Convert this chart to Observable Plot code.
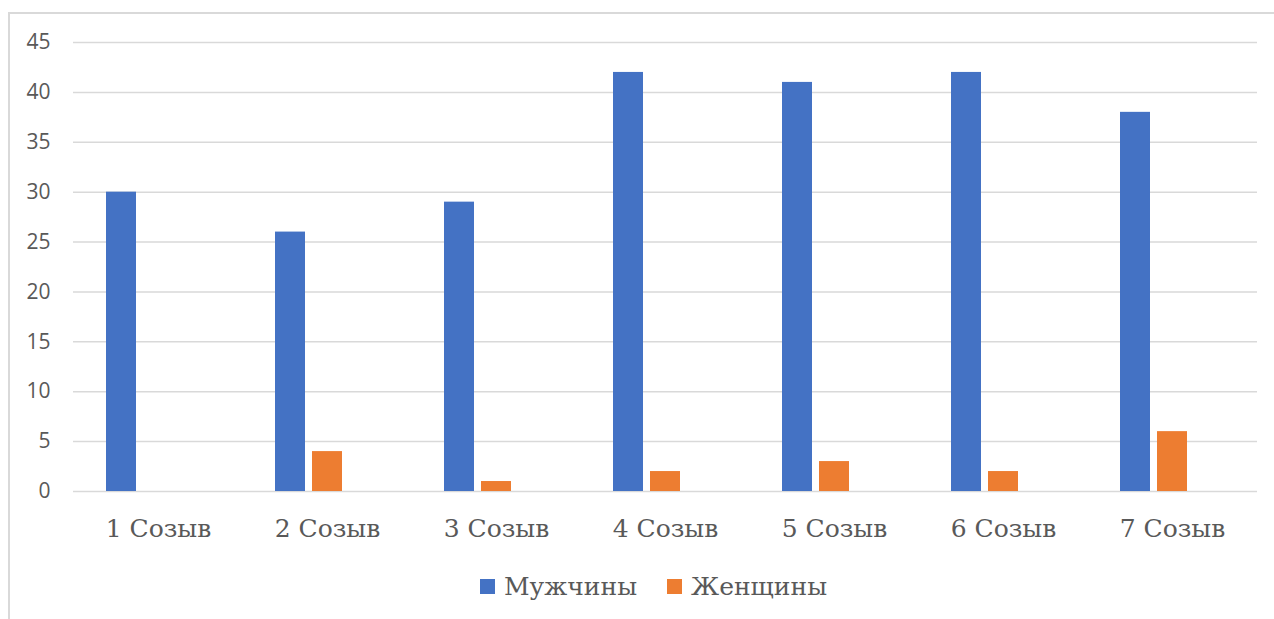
<!DOCTYPE html>
<html>
<head>
<meta charset="utf-8">
<script src="https://cdn.jsdelivr.net/npm/d3@7"></script>
<script src="https://cdn.jsdelivr.net/npm/@observablehq/plot@0.6"></script>
<style>
  html, body { margin: 0; padding: 0; background: #fff; }
  #wrap { position: relative; width: 1274px; height: 619px; overflow: hidden; }
  #frame { position: absolute; left: 8px; top: 12px; width: 1300px; height: 700px;
           border-top: 2px solid #d9d9d9; border-left: 2px solid #d9d9d9; }
  .layer { position: absolute; left: 0; top: 0; }
  .layer [aria-label^="fx-axis"] text { font-family: "DejaVu Serif", serif; font-size: 25px; fill: #595959; }
  .layer [aria-label^="y-axis"] text { font-family: "Open Sans", sans-serif; font-size: 21px; fill: #595959; }
  #legend { position: absolute; top: 572px; left: 480px; display: flex; align-items: center;
            font-family: "DejaVu Serif", serif; font-size: 25px; color: #595959; }
  .item { display: flex; align-items: center; margin-right: 30px; }
  .sw { width: 15px; height: 15px; margin-right: 9px; }
</style>
</head>
<body>
<div id="wrap">
  <div id="frame"></div>
  <div id="grid" class="layer"></div>
  <div id="chart" class="layer"></div>
  <div id="legend"></div>
</div>
<script>
const categories = ["1 Созыв", "2 Созыв", "3 Созыв", "4 Созыв", "5 Созыв", "6 Созыв", "7 Созыв"];
const seriesNames = ["Мужчины", "Женщины"];
const men = [30, 26, 29, 42, 41, 42, 38];
const women = [0, 4, 1, 2, 3, 2, 6];
const colors = ["#4472C4", "#ED7D31"];
const yTicks = [0, 5, 10, 15, 20, 25, 30, 35, 40, 45];

const data = categories.flatMap((c, i) => [
  {cat: c, series: seriesNames[0], value: men[i]},
  {cat: c, series: seriesNames[1], value: women[i]}
]);

const dims = {width: 1274, height: 560, marginLeft: 73, marginRight: 17, marginTop: 42, marginBottom: 69};
const style = {fontFamily: "'Open Sans', sans-serif", fontSize: "21px", color: "#595959", background: "transparent"};

// Back layer: gridlines and value axis over the full plot width
const grid = Plot.plot({
  ...dims,
  style,
  y: {domain: [0, 45], ticks: yTicks, tickSize: 0, tickPadding: 23, label: null},
  marks: [
    Plot.ruleY(yTicks, {stroke: "#d9d9d9", strokeWidth: 1.5})
  ]
});
document.getElementById("grid").appendChild(grid);

// Front layer: grouped bars and category axis
const chart = Plot.plot({
  ...dims,
  style,
  fx: {domain: categories, paddingInner: 0.385, paddingOuter: 0.1925, label: null, tickSize: 0, tickPadding: 28, axis: "bottom"},
  x: {domain: [...seriesNames, " "], paddingInner: 0.19, paddingOuter: 0, axis: null},
  y: {domain: [0, 45], axis: null},
  color: {domain: seriesNames, range: colors},
  marks: [
    Plot.barY(data, {fx: "cat", x: "series", y: "value", fill: "series"})
  ]
});
document.getElementById("chart").appendChild(chart);

const legend = document.getElementById("legend");
seriesNames.forEach((s, i) => {
  const item = document.createElement("div");
  item.className = "item";
  const sw = document.createElement("div");
  sw.className = "sw";
  sw.style.background = colors[i];
  const t = document.createElement("span");
  t.textContent = s;
  item.appendChild(sw);
  item.appendChild(t);
  legend.appendChild(item);
});
</script>
</body>
</html>
